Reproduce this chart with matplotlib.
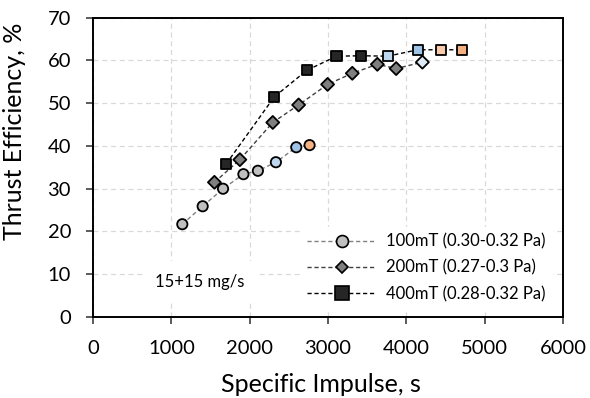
import matplotlib
matplotlib.use("Agg")
import matplotlib.pyplot as plt
from matplotlib.lines import Line2D

plt.rcParams['font.family'] = ['Lato', 'DejaVu Sans']

# 100 mT series
isp_100 = [1140, 1400, 1660, 1920, 2105, 2335, 2595, 2765]
eff_100 = [21.7, 25.9, 30.0, 33.4, 34.2, 36.2, 39.7, 40.2]
col_100 = ['#bfbfbf'] * 5 + ['#bdd7ee', '#9dc3e6', '#f4b183']

# 200 mT series
isp_200 = [1550, 1875, 2295, 2625, 2995, 3310, 3630, 3870, 4205]
eff_200 = [31.5, 36.8, 45.5, 49.6, 54.4, 57.0, 59.1, 58.1, 59.6]
col_200 = ['#7f7f7f'] * 8 + ['#deebf7']

# 400 mT series
isp_400 = [1700, 2315, 2730, 3110, 3425, 3765, 4145, 4440, 4710]
eff_400 = [35.8, 51.5, 57.7, 61.0, 61.1, 61.0, 62.5, 62.5, 62.5]
col_400 = ['#262626'] * 5 + ['#bdd7ee', '#9dc3e6', '#f8cbad', '#f4b183']

labels = ['100mT (0.30-0.32 Pa)', '200mT (0.27-0.3 Pa)', '400mT (0.28-0.32 Pa)']
x_ticks = [0, 1000, 2000, 3000, 4000, 5000, 6000]
y_ticks = [0, 10, 20, 30, 40, 50, 60, 70]

W, H = 590, 398
fig = plt.figure(figsize=(W / 100, H / 100), dpi=100)
left, right, top, bottom = 93, 563, 17.7, 317
ax = fig.add_axes([left / W, 1 - bottom / H, (right - left) / W, (bottom - top) / H])

# (x, y, face colours, marker, plot size, legend size, line colour)
series = [
    (isp_100, eff_100, col_100, 'o', 7.4, 8.6, '#808080'),
    (isp_200, eff_200, col_200, 'D', 6.6, 6.4, '#404040'),
    (isp_400, eff_400, col_400, 's', 7.4, 9.4, '#000000'),
]
handles = []
for xs, ys, cols, mk, ms, lms, lc in series:
    ax.plot(xs, ys, linestyle=(0, (3, 2)), color=lc, lw=1.0, zorder=3)
    ax.scatter(xs, ys, marker=mk, s=ms ** 2, c=cols, edgecolors='black',
               linewidths=1.3, zorder=4)
    handles.append(Line2D([], [], linestyle=(0, (3, 2)), color=lc, lw=1.0,
                          marker=mk, markersize=lms,
                          markerfacecolor=cols[0], markeredgecolor='black',
                          markeredgewidth=1.2))

ax.set_xlim(0, 6000)
ax.set_ylim(0, 70)
ax.set_xticks(x_ticks)
ax.set_yticks(y_ticks)
ax.grid(True, color='#d9d9d9', linestyle=(0, (4, 3)), lw=0.9, zorder=0)
ax.set_axisbelow(True)
for sp in ax.spines.values():
    sp.set_linewidth(1.4)
    sp.set_color('black')
ax.tick_params(axis='both', labelsize=14.5, length=5, width=1.2, direction='out',
               color='#404040')
ax.tick_params(axis='x', pad=11.5)
ax.tick_params(axis='y', pad=10.8)

fig.text(321 / W, 1 - 391.5 / H, 'Specific Impulse, s', fontsize=18,
         ha='center', va='baseline')
fig.text(15 / W, 1 - 131 / H, 'Thrust Efficiency, %', fontsize=18,
         rotation=90, ha='center', va='center')

leg = ax.legend(handles, labels, loc='lower right', bbox_to_anchor=(0.994, 0.0),
                fontsize=12, frameon=True, fancybox=False, framealpha=1,
                edgecolor='white', handlelength=4.1, handletextpad=0.6,
                labelspacing=0.6, borderpad=0.4)
leg.set_zorder(5)

ax.text(1367, 8.2, '15+15 mg/s', fontsize=12, ha='center', va='center',
        bbox=dict(facecolor='white', edgecolor='none', pad=9), zorder=5)

fig.savefig('out.png', dpi=100)
